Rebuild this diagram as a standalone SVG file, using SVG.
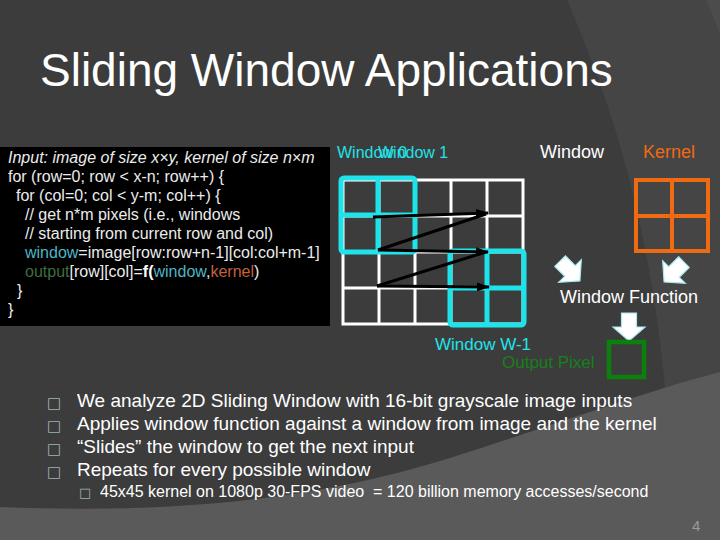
<svg xmlns="http://www.w3.org/2000/svg" width="720" height="540" viewBox="0 0 720 540">
  <defs>
    <style>
      text { font-family: "Liberation Sans", Arial, sans-serif; }
      .code { font-size: 16px; fill: #ececec; }
      .teal { fill: #4cb6c4; }
      .dgreen { fill: #3d6e3e; }
      .rust { fill: #c4603e; }
      .bul { font-size: 19px; fill: #ffffff; }
      .sq { font-family: "DejaVu Sans", sans-serif; fill: #9fb2b4; }
      .grid { fill: none; stroke: #ffffff; stroke-width: 3; }
      .win { fill: none; stroke: #1fe3ea; stroke-width: 5; }
      .kern { fill: none; stroke: #f06a12; stroke-width: 4; }
      .zig { stroke: #000000; stroke-width: 3; fill: none; }
      .blk { fill: #ffffff; stroke: #a8e8f0; stroke-width: 1.2; }
    </style>
    <marker id="ah" markerUnits="userSpaceOnUse" markerWidth="13" markerHeight="9" viewBox="0 0 13 9" refX="12" refY="4.5" orient="auto">
      <path d="M0,0 L13,4.5 L0,9 Z" fill="#000000"/>
    </marker>
    <path id="barrow" d="M-7.5,-14 L7.5,-14 L7.5,0 L16,0 L0,14 L-16,0 L-7.5,0 Z"/>
  </defs>

  <!-- background -->
  <rect x="0" y="0" width="720" height="540" fill="#3c3c3c"/>
  <path d="M567,0 C610,100 652,220 668,420 L720,420 L720,0 Z" fill="#454545"/>
  <path d="M706,0 Q714,18 720,34 L720,0 Z" fill="#4c4c4c"/>
  <path d="M0,507 C150,513 300,505 450,458 C560,423 650,390 720,372 L720,540 L0,540 Z" fill="#5a5a5a"/>

  <!-- title -->
  <text x="40" y="86" font-size="46" fill="#ffffff">Sliding Window Applications</text>

  <!-- code box -->
  <g id="code">
    <rect x="0" y="147" width="330" height="179" fill="#000000"/>
    <text class="code" x="8" y="163" font-style="italic">Input: image of size x×y, kernel of size n×m</text>
    <text class="code" x="8" y="182">for (row=0; row &lt; x-n; row++) {</text>
    <text class="code" x="16" y="201">for (col=0; col &lt; y-m; col++) {</text>
    <text class="code" x="25" y="220">// get n*m pixels (i.e., windows</text>
    <text class="code" x="25" y="239">// starting from current row and col)</text>
    <text class="code" x="25" y="258"><tspan class="teal">window</tspan>=image[row:row+n-1][col:col+m-1]</text>
    <text class="code" x="25" y="277"><tspan class="dgreen">output</tspan>[row][col]=<tspan font-weight="bold" fill="#ffffff">f(</tspan><tspan class="teal">window</tspan>,<tspan class="rust">kernel</tspan>)</text>
    <text class="code" x="17" y="296">}</text>
    <text class="code" x="8" y="315">}</text>
  </g>

  <!-- image grid -->
  <g id="image-grid">
    <rect class="grid" x="343" y="180" width="180" height="144"/>
    <path class="grid" d="M379,180 V324 M415,180 V324 M451,180 V324 M487,180 V324 M343,216 H523 M343,252 H523 M343,288 H523"/>
  </g>

  <g id="window-0">
    <rect class="win" x="341" y="178" width="74" height="74" rx="3"/>
    <path class="win" d="M378,178 V252 M341,215 H415"/>
    <text x="337" y="158" font-size="16" fill="#1fe3ea">Window 0</text>
  </g>
  <g id="window-1">
    <text x="378" y="158" font-size="16" fill="#1fe3ea">Window 1</text>
  </g>
  <g id="window-w1">
    <rect class="win" x="450" y="251" width="74" height="74" rx="3"/>
    <path class="win" d="M487,251 V325 M450,288 H524"/>
    <text x="435" y="350" font-size="17" fill="#1fe3ea">Window W-1</text>
  </g>

  <!-- connectors -->
  <g id="connectors">
    <line class="zig" x1="373" y1="217" x2="488" y2="213" marker-end="url(#ah)"/>
    <line class="zig" x1="486" y1="214" x2="378" y2="250"/>
    <line class="zig" x1="378" y1="250" x2="488" y2="252" marker-end="url(#ah)"/>
    <line class="zig" x1="486" y1="252" x2="377" y2="286"/>
    <line class="zig" x1="377" y1="286" x2="489" y2="287" marker-end="url(#ah)"/>
    <use href="#barrow" class="blk" transform="translate(570,271) rotate(-45)"/>
    <use href="#barrow" class="blk" transform="translate(674,272) rotate(45)"/>
    <use href="#barrow" class="blk" transform="translate(629,327)"/>
  </g>

  <g id="window-label">
    <text x="540" y="158" font-size="18" fill="#ffffff">Window</text>
  </g>

  <g id="kernel">
    <text x="643" y="158" font-size="18" fill="#f06a12">Kernel</text>
    <rect class="kern" x="636" y="180" width="72" height="71"/>
    <path class="kern" d="M672,180 V251 M636,216 H708"/>
  </g>

  <g id="window-function">
    <text x="560" y="303" font-size="18" fill="#ffffff">Window Function</text>
  </g>

  <g id="output-pixel">
    <text x="502" y="368" font-size="17" fill="#16801a">Output Pixel</text>
    <rect x="609" y="342" width="35" height="35" fill="none" stroke="#0c800c" stroke-width="4.5"/>
  </g>

  <!-- bullets -->
  <g id="bullets">
    <text class="sq" x="47" y="408" font-size="15">□</text>
    <text class="bul" x="77" y="407">We analyze 2D Sliding Window with 16-bit grayscale image inputs</text>
    <text class="sq" x="47" y="431" font-size="15">□</text>
    <text class="bul" x="77" y="430">Applies window function against a window from image and the kernel</text>
    <text class="sq" x="47" y="454" font-size="15">□</text>
    <text class="bul" x="77" y="453">“Slides” the window to get the next input</text>
    <text class="sq" x="47" y="477" font-size="15">□</text>
    <text class="bul" x="77" y="476">Repeats for every possible window</text>
    <text class="sq" x="79" y="497" font-size="13">□</text>
    <text x="100" y="497" font-size="16" fill="#ffffff">45x45 kernel on 1080p 30-FPS video&#160; = 120 billion memory accesses/second</text>
  </g>

  <text x="692" y="531" font-size="15" fill="#9a9a9a">4</text>
</svg>
